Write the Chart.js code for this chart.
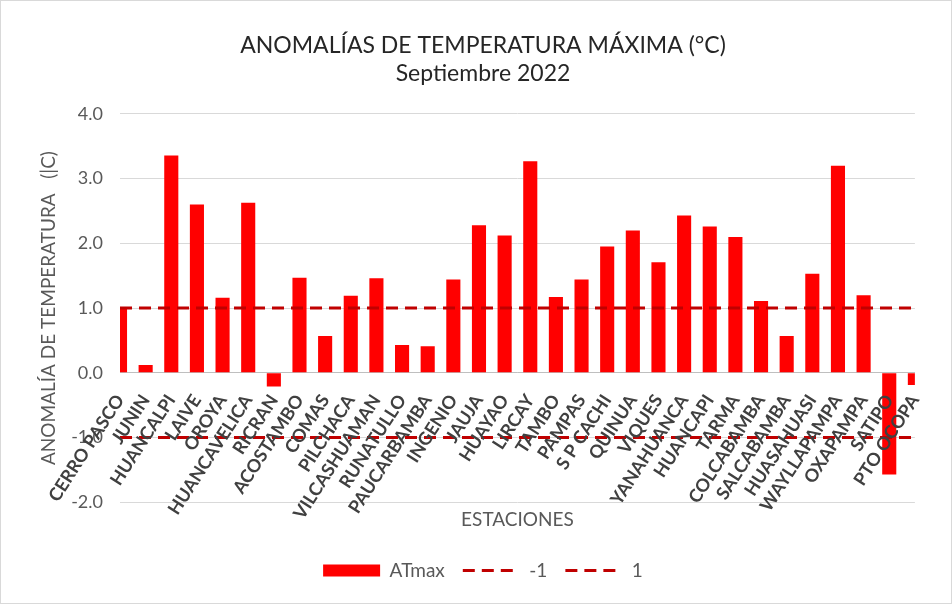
<!DOCTYPE html>
<html>
<head>
<meta charset="utf-8">
<script src="https://cdn.jsdelivr.net/npm/chart.js@4.4.0/dist/chart.umd.min.js"></script>
<style>
    html, body { margin: 0; padding: 0; background: #fff; }
    #wrap { width: 950px; height: 602px; border: 1px solid #d9d9d9; }
</style>
</head>
<body>
<div id="wrap"><canvas id="chart" width="950" height="602"></canvas></div>
<script>
const estaciones = ['CERRO PASCO', 'JUNIN', 'HUANCALPI', 'LAIVE', 'OROYA', 'HUANCAVELICA', 'RICRAN', 'ACOSTAMBO',
    'COMAS', 'PILCHACA', 'VILCASHUAMAN', 'RUNATULLO', 'PAUCARBAMBA', 'INGENIO', 'JAUJA', 'HUAYAO', 'LIRCAY',
    'TAMBO', 'PAMPAS', 'S P CACHI', 'QUINUA', 'VIQUES', 'YANAHUANCA', 'HUANCAPI', 'TARMA', 'COLCABAMBA',
    'SALCABAMBA', 'HUASAHUASI', 'WAYLLAPAMPA', 'OXAPAMPA', 'SATIPO', 'PTO OCOPA'];

const atmax = [1.0, 0.12, 3.36, 2.6, 1.16, 2.63, -0.21, 1.47, 0.57, 1.19, 1.46, 0.43, 0.41, 1.44, 2.28, 2.12, 3.27,
    1.17, 1.44, 1.95, 2.2, 1.71, 2.43, 2.26, 2.1, 1.11, 0.57, 1.53, 3.2, 1.2, -1.57, -0.19];

const limiteInf = [-1, -1, -1, -1, -1, -1, -1, -1, -1, -1, -1, -1, -1, -1, -1, -1,
    -1, -1, -1, -1, -1, -1, -1, -1, -1, -1, -1, -1, -1, -1, -1, -1];
const limiteSup = [1, 1, 1, 1, 1, 1, 1, 1, 1, 1, 1, 1, 1, 1, 1, 1,
    1, 1, 1, 1, 1, 1, 1, 1, 1, 1, 1, 1, 1, 1, 1, 1];

const FONT = "Lato, 'Open Sans', sans-serif";
const GRIS = '#595959';

let dashed = function (label, data) {
    return {
        type: 'line',
        label: label,
        data: data,
        borderColor: '#c00000',
        backgroundColor: '#c00000',
        borderWidth: 3,
        borderDash: [12, 7],
        pointRadius: 0,
        pointStyle: 'line',
        order: 0
    };
};

new Chart(document.getElementById('chart').getContext('2d'), {
    type: 'bar',
    data: {
        labels: estaciones,
        datasets: [
            {
                label: 'ATmax',
                data: atmax,
                backgroundColor: '#ff0000',
                barPercentage: 0.55,
                categoryPercentage: 1,
                pointStyle: 'rect',
                clip: 0,
                order: 1
            },
            dashed('-1', limiteInf),
            dashed('1', limiteSup)
        ]
    },
    options: {
        responsive: false,
        animation: false,
        layout: {
            padding: { left: 14, right: 0, top: 0, bottom: 13 }
        },
        plugins: {
            tooltip: { enabled: false },
            title: {
                display: true,
                text: ['ANOMALÍAS DE TEMPERATURA MÁXIMA (°C)', 'Septiembre 2022'],
                color: '#262626',
                font: { family: FONT, size: 23, weight: 'normal', lineHeight: 1.217 },
                padding: { top: 31, bottom: 26 }
            },
            legend: {
                position: 'bottom',
                labels: {
                    usePointStyle: true,
                    pointStyleWidth: 57,
                    boxHeight: 12,
                    padding: 18,
                    color: GRIS,
                    font: { family: FONT, size: 19 },
                    sort: function (a, b) {
                        return a.datasetIndex - b.datasetIndex;
                    },
                    generateLabels: function (chart) {
                        let items = Chart.defaults.plugins.legend.labels.generateLabels(chart);
                        items.forEach(function (item) {
                            let ds = chart.data.datasets[item.datasetIndex];
                            if (ds.borderDash) {
                                item.lineDash = ds.borderDash;
                                item.lineWidth = ds.borderWidth;
                                item.strokeStyle = ds.borderColor;
                            }
                        });
                        return items;
                    }
                }
            }
        },
        scales: {
            x: {
                type: 'category',
                position: { y: 0 },
                offset: false,
                grid: { display: false, drawTicks: false },
                border: { display: true, color: '#bfbfbf' },
                ticks: {
                    autoSkip: false,
                    minRotation: 57,
                    maxRotation: 57,
                    padding: 18,
                    z: 1,
                    color: '#404040',
                    font: { family: FONT, size: 18, weight: 'bold' }
                }
            },
            x2: {
                type: 'category',
                position: 'bottom',
                labels: estaciones,
                grid: { display: false, drawTicks: false },
                border: { display: false },
                ticks: { display: false },
                title: {
                    display: true,
                    text: 'ESTACIONES',
                    color: GRIS,
                    font: { family: FONT, size: 19 },
                    padding: { top: 6, bottom: 12 }
                }
            },
            y: {
                min: -2,
                max: 4,
                afterFit: function (scale) {
                    scale.width = 105;
                },
                grid: { color: '#d9d9d9', drawTicks: false },
                border: { display: false },
                ticks: {
                    stepSize: 1,
                    padding: 17,
                    color: GRIS,
                    font: { family: FONT, size: 18 },
                    callback: function (v) {
                        return v.toFixed(1);
                    }
                },
                title: {
                    display: true,
                    text: 'ANOMALÍA DE TEMPERATURA   (|C)',
                    color: GRIS,
                    font: { family: FONT, size: 19 },
                    padding: { top: 22, bottom: 0 }
                }
            },
            margen: {
                type: 'linear',
                position: 'right',
                afterFit: function (scale) {
                    scale.width = 36;
                },
                grid: { display: false, drawTicks: false },
                border: { display: false },
                ticks: { display: false }
            }
        }
    }
});
</script>
</body>
</html>
